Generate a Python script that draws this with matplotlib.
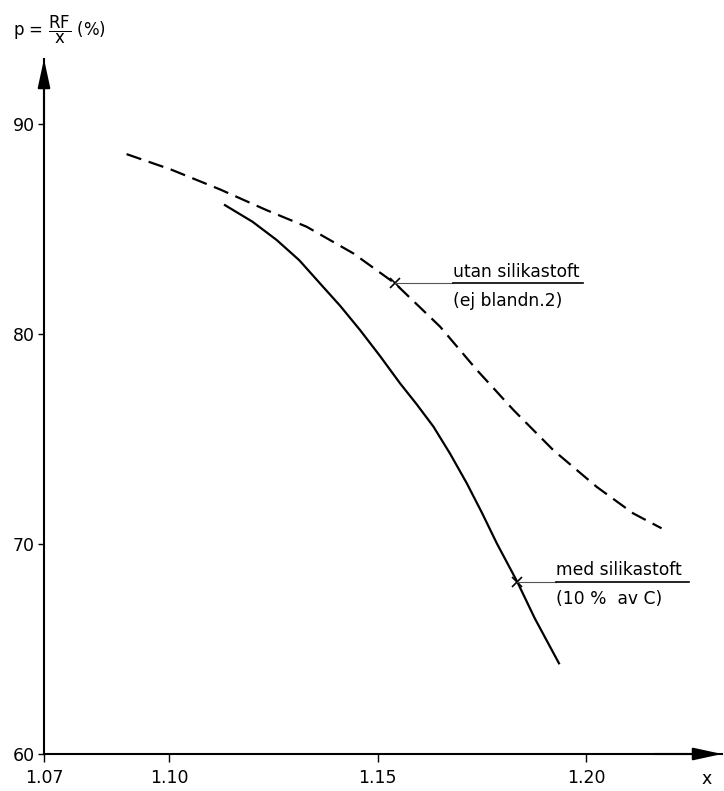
import matplotlib
matplotlib.use("Agg")
import matplotlib.pyplot as plt

plt.rcParams['font.family'] = ['DejaVu Sans']
plt.rcParams['mathtext.fontset'] = 'dejavusans'

# --- data ---
without_x = [1.0898, 1.1004, 1.1122, 1.1234, 1.1330, 1.1442, 1.1542, 1.1650,
             1.1738, 1.1826, 1.1921, 1.2025, 1.2113, 1.2181]
without_y = [88.57, 87.84, 86.89, 85.90, 85.11, 83.84, 82.41, 80.35,
             78.29, 76.38, 74.48, 72.73, 71.46, 70.75]

with_x = [1.1134, 1.1200, 1.1258, 1.1312, 1.1362, 1.1410, 1.1458, 1.1506,
          1.1554, 1.1594, 1.1634, 1.1674, 1.1714, 1.1750, 1.1786, 1.1835,
          1.1877, 1.1935]
with_y = [86.14, 85.35, 84.48, 83.52, 82.41, 81.35, 80.19, 78.95,
          77.65, 76.65, 75.59, 74.30, 72.89, 71.50, 70.03, 68.20,
          66.46, 64.32]

marker_x = [1.1542, 1.1835]
marker_y = [82.41, 68.20]
label_top = ["utan silikastoft", "med silikastoft"]
label_bottom = ["(ej blandn.2)", "(10 %  av C)"]

x_ticks = [1.07, 1.10, 1.15, 1.20]
x_tick_labels = ["1.07", "1.10", "1.15", "1.20"]
y_ticks = [60, 70, 80, 90]
y_tick_labels = ["60", "70", "80", "90"]

W, H = 724, 791
fig = plt.figure(figsize=(W / 100, H / 100), dpi=100)
ax = fig.add_axes([44 / W, 37 / H, 678 / W, 695 / H])
ax.set_xlim(1.07, 1.2326)
ax.set_ylim(60, 93.1)

for s in ['top', 'right']:
    ax.spines[s].set_visible(False)
for s in ['left', 'bottom']:
    ax.spines[s].set_linewidth(1.5)

ax.set_xticks(x_ticks)
ax.set_xticklabels(x_tick_labels)
ax.set_yticks(y_ticks)
ax.set_yticklabels(y_tick_labels)
ax.tick_params(axis='x', direction='out', length=5.8, width=1.0, pad=5, labelsize=12.5)
ax.tick_params(axis='y', direction='out', length=4.3, width=1.0, pad=2.5, labelsize=12.5)

# axis arrows
arrow_kw = dict(arrowstyle='-|>,head_length=1.75,head_width=0.38', mutation_scale=10,
                color='black', lw=1.5, shrinkA=0, shrinkB=0)
ax.annotate('', xy=(1.0, 0.0), xytext=(0.9, 0.0), xycoords='axes fraction',
            textcoords='axes fraction', arrowprops=arrow_kw, annotation_clip=False)
ax.annotate('', xy=(0.0, 1.0), xytext=(0.0, 0.9), xycoords='axes fraction',
            textcoords='axes fraction', arrowprops=arrow_kw, annotation_clip=False)

# curves
ax.plot(without_x, without_y, color='black', lw=1.6, dashes=(7, 3.5), clip_on=False)
ax.plot(with_x, with_y, color='black', lw=1.6, clip_on=False)
ax.plot(marker_x, marker_y, ls='none', marker='x', ms=7, mew=1.2, color='black')

# leader lines and labels
text_start = [1.1681, 1.1928]
line_end = [1.1993, 1.2247]
for mx, my, ts, le, t1, t2 in zip(marker_x, marker_y, text_start, line_end,
                                  label_top, label_bottom):
    ax.plot([mx, ts], [my, my], color='#555555', lw=0.8)
    ax.plot([ts, le], [my, my], color='black', lw=1.2)
    ax.annotate(t1, xy=(ts, my), xytext=(0, 2), textcoords='offset points',
                ha='left', va='bottom', fontsize=12.3)
    ax.annotate(t2, xy=(ts, my), xytext=(0, -6), textcoords='offset points',
                ha='left', va='top', fontsize=12.3)

# axis labels
fig.text(707 / W, 1 - 779 / H, 'x', ha='center', va='center', fontsize=12.5)
fig.text(13 / W, 1 - 30 / H, r'p = $\dfrac{\mathsf{RF}}{\mathsf{x}}$ (%)',
         ha='left', va='center', fontsize=12)

fig.savefig('out.png', dpi=100)
